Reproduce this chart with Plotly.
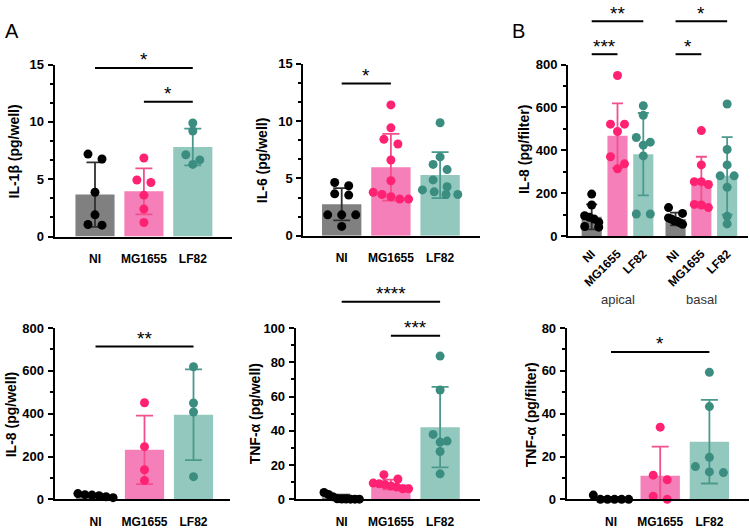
import plotly.graph_objects as go

W, H = 750, 529
FONT = "Liberation Sans, Arial, sans-serif"

GROUPS = ["NI", "MG1655", "LF82"]
BAR_COLORS = ["#808080", "#f57fb8", "#93c8bf"]
PT_COLORS = ["#000000", "#ff2272", "#3b8d80"]
ERR_COLORS = ["#303030", "#f24f8e", "#4a998c"]

# ---------------- data ----------------
# A: IL-1beta (pg/well)
il1b_mean = [3.66, 3.94, 7.81]
il1b_sd = [2.81, 2.0, 1.6]
il1b_pts = [[7.19, 6.76, 3.86, 1.89, 1.05, 0.99],
            [6.85, 4.93, 4.71, 3.61, 2.40, 1.22],
            [9.90, 9.20, 7.13, 6.68, 6.29]]
il1b_sig = [(0, 2, 14.7, "*"), (1, 2, 11.75, "*")]

# A: IL-6 (pg/well)
il6_mean = [2.75, 5.97, 5.29]
il6_sd = [1.4, 2.9, 2.0]
il6_pts = [[4.64, 4.36, 3.66, 3.55, 1.83, 1.83, 1.83, 0.82],
           [11.4, 9.4, 8.4, 8.0, 6.6, 4.8, 3.8, 3.6, 3.4, 3.2, 3.2],
           [9.85, 6.87, 6.22, 5.77, 4.87, 4.28, 4.0, 3.83, 3.6, 3.6]]
il6_sig = [(0, 1, 13.26, "*")]

# B: IL-8 (pg/filter), apical and basal
il8f_labels = ["NI", "MG1655", "LF82", "NI", "MG1655", "LF82"]
il8f_mean = [90, 468, 382, 80, 258, 281]
il8f_sd = [58, 151, 192, 30, 112, 181]
il8f_pts = [[196, 145, 95, 88, 80, 65, 45, 42],
            [749, 522, 522, 488, 370, 337, 314],
            [608, 563, 460, 438, 424, 374, 103, 103],
            [133, 106, 85, 80, 72, 70, 62, 55],
            [492, 332, 254, 254, 241, 148, 145, 133],
            [616, 404, 332, 281, 281, 228, 93, 57]]
il8f_sig = [(0, 2, 1002, "**"), (0, 1, 848, "***"), (3, 5, 1002, "*"), (3, 4, 848, "*")]
il8f_sides = ["apical", "basal"]

# A: IL-8 (pg/well)
il8w_mean = [17, 231, 395]
il8w_sd = [6, 160, 212]
il8w_pts = [[27, 22, 20, 17, 12, 8],
            [451, 246, 138, 88],
            [619, 450, 408, 106]]
il8w_sig = [(0, 2, 714, "**")]

# A: TNF-alpha (pg/well)
tnfw_mean = [1.2, 8.7, 42.1]
tnfw_sd = [1.5, 2.8, 23.5]
tnfw_pts = [[4.0, 2.8, 1.5, 0.3, 0.2, 0.2, 0.1, 0.1, 0.1],
            [14.4, 11.9, 9.5, 9.1, 8.6, 7.8, 7.2, 6.2, 6.2],
            [83.6, 63.8, 37.9, 34.0, 33.4, 27.9, 14.9]]
tnfw_sig = [(0, 2, 115.3, "****"), (1, 2, 95.5, "***")]

# B: TNF-alpha (pg/filter)
tnff_mean = [0.35, 11.0, 26.9]
tnff_sd = [0.8, 13.6, 19.5]
tnff_pts = [[2.0, 0, 0, 0, 0, 0],
            [33.7, 11.3, 9.1, 1.5, 0],
            [59.3, 43.3, 19.6, 15.3, 12.8, 12.5]]
tnff_sig = [(0, 2, 68.8, "*")]

# ---------------- layout geometry (pixels) ----------------
panels = [
    dict(title="IL-1β (pg/well)", mean=il1b_mean, sd=il1b_sd, pts=il1b_pts, sig=il1b_sig,
         labels=GROUPS, pos=[0, 1, 2], cidx=[0, 1, 2], ymax=15, dtick=5, minor=5 / 3,
         x0=54.5, x1=232, c0=95, sp=48.9, top=59.3, bot=236.7, bw=0.8, cap=8.5,
         tx=14, ty=149, angle=0),
    dict(title="IL-6 (pg/well)", mean=il6_mean, sd=il6_sd, pts=il6_pts, sig=il6_sig,
         labels=GROUPS, pos=[0, 1, 2], cidx=[0, 1, 2], ymax=15, dtick=5, minor=5 / 3,
         x0=303.3, x1=480, c0=341.7, sp=49.2, top=58.3, bot=236.0, bw=0.8, cap=8.5,
         tx=262, ty=158, angle=0),
    dict(title="IL-8 (pg/filter)", mean=il8f_mean, sd=il8f_sd, pts=il8f_pts, sig=il8f_sig,
         labels=il8f_labels, pos=[0, 1, 2, 3.25, 4.25, 5.25], cidx=[0, 1, 2, 0, 1, 2],
         ymax=800, dtick=200, minor=100,
         x0=568, x1=748, c0=591.7, sp=25.8, top=59.3, bot=236.3, bw=0.78, cap=5.5,
         tx=523.5, ty=147, angle=-45),
    dict(title="IL-8 (pg/well)", mean=il8w_mean, sd=il8w_sd, pts=il8w_pts, sig=il8w_sig,
         labels=GROUPS, pos=[0, 1, 2], cidx=[0, 1, 2], ymax=800, dtick=200, minor=100,
         x0=54.5, x1=230, c0=95.5, sp=49.0, top=331, bot=507.7, bw=0.8, cap=8.5,
         tx=11, ty=420, angle=0),
    dict(title="TNF-α (pg/well)", mean=tnfw_mean, sd=tnfw_sd, pts=tnfw_pts, sig=tnfw_sig,
         labels=GROUPS, pos=[0, 1, 2], cidx=[0, 1, 2], ymax=100, dtick=20, minor=10,
         x0=295.7, x1=480, c0=341.7, sp=49.2, top=331, bot=507.7, bw=0.8, cap=8.5,
         tx=255, ty=420, angle=0),
    dict(title="TNF-α (pg/filter)", mean=tnff_mean, sd=tnff_sd, pts=tnff_pts, sig=tnff_sig,
         labels=GROUPS, pos=[0, 1, 2], cidx=[0, 1, 2], ymax=80, dtick=20, minor=10,
         x0=566.7, x1=749, c0=611, sp=49.2, top=331, bot=507.7, bw=0.8, cap=8.5,
         tx=531, ty=421, angle=0),
]

DPREF = 14.0   # preferred horizontal spacing of points in one row (px)
ROWTOL = 7.5   # points within this vertical distance (px) share a row


def swarm(values, center, sp, py, maxoff):
    order = sorted(range(len(values)), key=lambda i: -values[i])
    rows = []
    for i in order:
        y = values[i] * py
        if rows and rows[-1][0] - y <= ROWTOL:
            rows[-1][1].append(i)
        else:
            rows.append((y, [i]))
    offs = [0.0] * len(values)
    for _, idx in rows:
        n = len(idx)
        if n == 1:
            continue
        spacing = min(DPREF, 2 * maxoff / (n - 1))
        for k, i in enumerate(idx):
            offs[i] = (k - (n - 1) / 2) * spacing
    return [center + o / sp for o in offs]


fig = go.Figure()
layout = dict(width=W, height=H, margin=dict(l=0, r=0, t=0, b=0),
              paper_bgcolor="white", plot_bgcolor="white", showlegend=False,
              shapes=[], annotations=[])

for k, p in enumerate(panels):
    n = k + 1
    xa = "x" if n == 1 else f"x{n}"
    ya = "y" if n == 1 else f"y{n}"
    py = (p["bot"] - p["top"]) / p["ymax"]
    half_px = p["bw"] * p["sp"] / 2
    maxoff = half_px - 2 if p["sp"] > 40 else half_px - 3
    for g, (pos, m, s, pts, ci) in enumerate(zip(p["pos"], p["mean"], p["sd"], p["pts"], p["cidx"])):
        fig.add_trace(go.Bar(
            x=[pos], y=[m], width=p["bw"], xaxis=xa, yaxis=ya,
            marker=dict(color=BAR_COLORS[ci], line=dict(width=0)),
            error_y=dict(type="data", array=[s], visible=True, color=ERR_COLORS[ci],
                         thickness=1.8, width=p["cap"]),
            hoverinfo="skip"))
        xs = swarm(pts, pos, p["sp"], py, maxoff)
        fig.add_trace(go.Scatter(
            x=xs, y=pts, mode="markers", xaxis=xa, yaxis=ya, cliponaxis=False,
            marker=dict(color=PT_COLORS[ci], size=9, line=dict(width=0)),
            hoverinfo="skip"))

    left = (p["x0"] - p["c0"]) / p["sp"]
    right = (p["x1"] - p["c0"]) / p["sp"]
    layout["xaxis" if n == 1 else f"xaxis{n}"] = dict(
        domain=[p["x0"] / W, p["x1"] / W], range=[left, right], anchor=ya,
        showline=True, linecolor="black", linewidth=2, showgrid=False, zeroline=False,
        tickvals=p["pos"], ticktext=p["labels"], ticks="", tickangle=p["angle"],
        ticklabelstandoff=10 if p["angle"] == 0 else 4,
        tickfont=dict(family=FONT, size=12, color="black", weight="bold"),
        fixedrange=True)
    layout["yaxis" if n == 1 else f"yaxis{n}"] = dict(
        domain=[1 - p["bot"] / H, 1 - p["top"] / H], range=[0, p["ymax"]], anchor=xa,
        showline=True, linecolor="black", linewidth=2, showgrid=False, zeroline=False,
        ticks="outside", ticklen=5, tickwidth=2, tickcolor="black", dtick=p["dtick"], tick0=0,
        minor=dict(dtick=p["minor"], tick0=0, ticks="outside", ticklen=3, tickwidth=1.5,
                   tickcolor="black"),
        ticklabelstandoff=1,
        tickfont=dict(family=FONT, size=13, color="black", weight="bold"),
        fixedrange=True)

    # significance brackets
    for (i, j, yv, lab) in p["sig"]:
        yd = yv / p["ymax"]
        layout["shapes"].append(dict(type="line", xref=xa, yref=f"{ya} domain",
                                     x0=p["pos"][i], x1=p["pos"][j], y0=yd, y1=yd,
                                     line=dict(color="black", width=2)))
        layout["annotations"].append(dict(
            xref=xa, yref=f"{ya} domain", x=(p["pos"][i] + p["pos"][j]) / 2, y=yd,
            text=lab, showarrow=False, yanchor="middle", yshift=8,
            font=dict(family=FONT, size=19, color="black")))

    # y axis title
    layout["annotations"].append(dict(
        xref="paper", yref="paper", x=p["tx"] / W, y=1 - p["ty"] / H, text=p["title"],
        textangle=-90, showarrow=False, xanchor="center", yanchor="middle",
        font=dict(family=FONT, size=14, color="black", weight="bold")))

# apical / basal labels under panel B
pB = panels[2]
for side, grp in zip(il8f_sides, [(0, 2), (3, 5)]):
    cx = (pB["pos"][grp[0]] + pB["pos"][grp[1]]) / 2
    layout["annotations"].append(dict(
        xref="x3", yref="paper", x=cx, y=1 - 302 / H, text=side, showarrow=False,
        xanchor="center", yanchor="middle", font=dict(family=FONT, size=13, color="#333333")))

# panel letters
for letter, lx, ly in [("A", 12, 25), ("B", 518, 25)]:
    layout["annotations"].append(dict(
        xref="paper", yref="paper", x=lx / W, y=1 - ly / H, text=letter, showarrow=False,
        xanchor="center", yanchor="middle", font=dict(family=FONT, size=20, color="black")))

fig.update_layout(**layout)
fig.write_html("out.html")
